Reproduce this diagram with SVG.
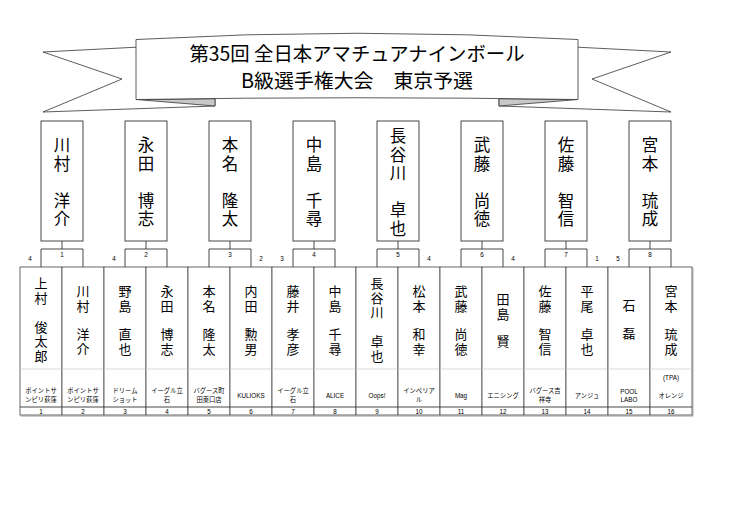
<svg xmlns="http://www.w3.org/2000/svg" width="740" height="523" viewBox="0 0 740 523">
<style>
  .jp { font-family: "Noto Sans CJK JP", "Liberation Sans", sans-serif; fill: #000; }
  .ttl { font-size: 19.5px; text-anchor: middle; dominant-baseline: central; }
  .wn { font-size: 16.5px; text-anchor: middle; dominant-baseline: central; }
  .pn { font-size: 13px; text-anchor: middle; dominant-baseline: central; }
  .sm { font-family: "Liberation Sans", "Noto Sans CJK JP", sans-serif; font-size: 6.3px; text-anchor: middle; dominant-baseline: central; fill: #000; }
  .box { fill: #fff; stroke: #333; stroke-width: 0.9; }
  .ln { fill: none; stroke: #333; stroke-width: 0.9; }
  .col { fill: #fff; stroke: #444; stroke-width: 0.8; }
  .sep { stroke: #cfcfcf; stroke-width: 0.8; }
  .ban { fill: #fff; stroke: #333; stroke-width: 0.8; stroke-linejoin: miter; }
  .fold { fill: #c8c8c8; stroke: #333; stroke-width: 0.8; }
</style>

<g id="title">
  <polygon class="ban" points="140,47 43,52 122,79 43,112 215,106 215,99"/>
  <polygon class="ban" points="574,47 671,52 592,79 671,112 499,106 499,99"/>
  <polygon class="fold" points="136,99.5 215,98.7 215,106"/>
  <polygon class="fold" points="578,99.5 499,98.7 499,106"/>
  <path class="ban" d="M136,39.5 Q357,27 578,39.5 L578,99.5 Q357,96 136,99.5 Z"/>
  <text class="jp ttl" x="357" y="52" textLength="335" lengthAdjust="spacingAndGlyphs">第35回 全日本アマチュアナインボール</text>
  <text class="jp ttl" x="357" y="79" textLength="232" lengthAdjust="spacingAndGlyphs">B級選手権大会　東京予選</text>
</g>

<!-- winners -->
<g id="w1"><rect class="box" x="41" y="121" width="42" height="120"/>
  <text class="jp wn"><tspan x="62" y="144">川</tspan><tspan x="62" y="162.5">村</tspan><tspan x="62" y="199.5">洋</tspan><tspan x="62" y="218">介</tspan></text></g>
<g id="w2"><rect class="box" x="125" y="121" width="42" height="120"/>
  <text class="jp wn"><tspan x="146" y="144">永</tspan><tspan x="146" y="162.5">田</tspan><tspan x="146" y="199.5">博</tspan><tspan x="146" y="218">志</tspan></text></g>
<g id="w3"><rect class="box" x="209" y="121" width="42" height="120"/>
  <text class="jp wn"><tspan x="230" y="144">本</tspan><tspan x="230" y="162.5">名</tspan><tspan x="230" y="199.5">隆</tspan><tspan x="230" y="218">太</tspan></text></g>
<g id="w4"><rect class="box" x="293" y="121" width="42" height="120"/>
  <text class="jp wn"><tspan x="314" y="144">中</tspan><tspan x="314" y="162.5">島</tspan><tspan x="314" y="199.5">千</tspan><tspan x="314" y="218">尋</tspan></text></g>
<g id="w5"><rect class="box" x="377" y="121" width="42" height="120"/>
  <text class="jp wn"><tspan x="398" y="135">長</tspan><tspan x="398" y="153.5">谷</tspan><tspan x="398" y="172">川</tspan><tspan x="398" y="209">卓</tspan><tspan x="398" y="227.5">也</tspan></text></g>
<g id="w6"><rect class="box" x="461" y="121" width="42" height="120"/>
  <text class="jp wn"><tspan x="482" y="144">武</tspan><tspan x="482" y="162.5">藤</tspan><tspan x="482" y="199.5">尚</tspan><tspan x="482" y="218">徳</tspan></text></g>
<g id="w7"><rect class="box" x="545" y="121" width="42" height="120"/>
  <text class="jp wn"><tspan x="566" y="144">佐</tspan><tspan x="566" y="162.5">藤</tspan><tspan x="566" y="199.5">智</tspan><tspan x="566" y="218">信</tspan></text></g>
<g id="w8"><rect class="box" x="629" y="121" width="42" height="120"/>
  <text class="jp wn"><tspan x="650" y="144">宮</tspan><tspan x="650" y="162.5">本</tspan><tspan x="650" y="199.5">琉</tspan><tspan x="650" y="218">成</tspan></text></g>

<!-- players -->
<g id="p1"><rect class="col" x="20" y="267" width="42" height="148"/><line class="sep" x1="20" y1="369" x2="62" y2="369"/><line class="ln" x1="20" y1="407" x2="62" y2="407"/>
  <text class="jp pn"><tspan x="41" y="282.25">上</tspan><tspan x="41" y="296.75">村</tspan><tspan x="41" y="325.75">俊</tspan><tspan x="41" y="340.25">太</tspan><tspan x="41" y="354.75">郎</tspan></text>
  <text class="sm"><tspan x="41" y="390">ポイントサ</tspan><tspan x="41" y="399">ンピリ荻窪</tspan></text><text class="sm" x="41" y="411.3">1</text></g>
<g id="p2"><rect class="col" x="62" y="267" width="42" height="148"/><line class="sep" x1="62" y1="369" x2="104" y2="369"/><line class="ln" x1="62" y1="407" x2="104" y2="407"/>
  <text class="jp pn"><tspan x="83" y="290">川</tspan><tspan x="83" y="304.5">村</tspan><tspan x="83" y="333">洋</tspan><tspan x="83" y="347.5">介</tspan></text>
  <text class="sm"><tspan x="83" y="390">ポイントサ</tspan><tspan x="83" y="399">ンピリ荻窪</tspan></text><text class="sm" x="83" y="411.3">2</text></g>
<g id="p3"><rect class="col" x="104" y="267" width="42" height="148"/><line class="sep" x1="104" y1="369" x2="146" y2="369"/><line class="ln" x1="104" y1="407" x2="146" y2="407"/>
  <text class="jp pn"><tspan x="125" y="290">野</tspan><tspan x="125" y="304.5">島</tspan><tspan x="125" y="333">直</tspan><tspan x="125" y="347.5">也</tspan></text>
  <text class="sm"><tspan x="125" y="390">ドリーム</tspan><tspan x="125" y="399">ショット</tspan></text><text class="sm" x="125" y="411.3">3</text></g>
<g id="p4"><rect class="col" x="146" y="267" width="42" height="148"/><line class="sep" x1="146" y1="369" x2="188" y2="369"/><line class="ln" x1="146" y1="407" x2="188" y2="407"/>
  <text class="jp pn"><tspan x="167" y="290">永</tspan><tspan x="167" y="304.5">田</tspan><tspan x="167" y="333">博</tspan><tspan x="167" y="347.5">志</tspan></text>
  <text class="sm"><tspan x="167" y="390">イーグル立</tspan><tspan x="167" y="399">石</tspan></text><text class="sm" x="167" y="411.3">4</text></g>
<g id="p5"><rect class="col" x="188" y="267" width="42" height="148"/><line class="sep" x1="188" y1="369" x2="230" y2="369"/><line class="ln" x1="188" y1="407" x2="230" y2="407"/>
  <text class="jp pn"><tspan x="209" y="290">本</tspan><tspan x="209" y="304.5">名</tspan><tspan x="209" y="333">隆</tspan><tspan x="209" y="347.5">太</tspan></text>
  <text class="sm"><tspan x="209" y="390">バグース町</tspan><tspan x="209" y="399">田東口店</tspan></text><text class="sm" x="209" y="411.3">5</text></g>
<g id="p6"><rect class="col" x="230" y="267" width="42" height="148"/><line class="sep" x1="230" y1="369" x2="272" y2="369"/><line class="ln" x1="230" y1="407" x2="272" y2="407"/>
  <text class="jp pn"><tspan x="251" y="290">内</tspan><tspan x="251" y="304.5">田</tspan><tspan x="251" y="333">勲</tspan><tspan x="251" y="347.5">男</tspan></text>
  <text class="sm" x="251" y="395">KULIOKS</text><text class="sm" x="251" y="411.3">6</text></g>
<g id="p7"><rect class="col" x="272" y="267" width="42" height="148"/><line class="sep" x1="272" y1="369" x2="314" y2="369"/><line class="ln" x1="272" y1="407" x2="314" y2="407"/>
  <text class="jp pn"><tspan x="293" y="290">藤</tspan><tspan x="293" y="304.5">井</tspan><tspan x="293" y="333">孝</tspan><tspan x="293" y="347.5">彦</tspan></text>
  <text class="sm"><tspan x="293" y="390">イーグル立</tspan><tspan x="293" y="399">石</tspan></text><text class="sm" x="293" y="411.3">7</text></g>
<g id="p8"><rect class="col" x="314" y="267" width="42" height="148"/><line class="sep" x1="314" y1="369" x2="356" y2="369"/><line class="ln" x1="314" y1="407" x2="356" y2="407"/>
  <text class="jp pn"><tspan x="335" y="290">中</tspan><tspan x="335" y="304.5">島</tspan><tspan x="335" y="333">千</tspan><tspan x="335" y="347.5">尋</tspan></text>
  <text class="sm" x="335" y="395">ALICE</text><text class="sm" x="335" y="411.3">8</text></g>
<g id="p9"><rect class="col" x="356" y="267" width="42" height="148"/><line class="sep" x1="356" y1="369" x2="398" y2="369"/><line class="ln" x1="356" y1="407" x2="398" y2="407"/>
  <text class="jp pn"><tspan x="377" y="282.25">長</tspan><tspan x="377" y="296.75">谷</tspan><tspan x="377" y="311.25">川</tspan><tspan x="377" y="340.25">卓</tspan><tspan x="377" y="354.75">也</tspan></text>
  <text class="sm" x="377" y="395">Oops!</text><text class="sm" x="377" y="411.3">9</text></g>
<g id="p10"><rect class="col" x="398" y="267" width="42" height="148"/><line class="sep" x1="398" y1="369" x2="440" y2="369"/><line class="ln" x1="398" y1="407" x2="440" y2="407"/>
  <text class="jp pn"><tspan x="419" y="290">松</tspan><tspan x="419" y="304.5">本</tspan><tspan x="419" y="333">和</tspan><tspan x="419" y="347.5">幸</tspan></text>
  <text class="sm"><tspan x="419" y="390">インペリア</tspan><tspan x="419" y="399">ル</tspan></text><text class="sm" x="419" y="411.3">10</text></g>
<g id="p11"><rect class="col" x="440" y="267" width="42" height="148"/><line class="sep" x1="440" y1="369" x2="482" y2="369"/><line class="ln" x1="440" y1="407" x2="482" y2="407"/>
  <text class="jp pn"><tspan x="461" y="290">武</tspan><tspan x="461" y="304.5">藤</tspan><tspan x="461" y="333">尚</tspan><tspan x="461" y="347.5">徳</tspan></text>
  <text class="sm" x="461" y="395">Mag</text><text class="sm" x="461" y="411.3">11</text></g>
<g id="p12"><rect class="col" x="482" y="267" width="42" height="148"/><line class="sep" x1="482" y1="369" x2="524" y2="369"/><line class="ln" x1="482" y1="407" x2="524" y2="407"/>
  <text class="jp pn"><tspan x="503" y="298">田</tspan><tspan x="503" y="312.5">島</tspan><tspan x="503" y="340">賢</tspan></text>
  <text class="sm" x="503" y="395">エニシング</text><text class="sm" x="503" y="411.3">12</text></g>
<g id="p13"><rect class="col" x="524" y="267" width="42" height="148"/><line class="sep" x1="524" y1="369" x2="566" y2="369"/><line class="ln" x1="524" y1="407" x2="566" y2="407"/>
  <text class="jp pn"><tspan x="545" y="290">佐</tspan><tspan x="545" y="304.5">藤</tspan><tspan x="545" y="333">智</tspan><tspan x="545" y="347.5">信</tspan></text>
  <text class="sm"><tspan x="545" y="390">バグース吉</tspan><tspan x="545" y="399">祥寺</tspan></text><text class="sm" x="545" y="411.3">13</text></g>
<g id="p14"><rect class="col" x="566" y="267" width="42" height="148"/><line class="sep" x1="566" y1="369" x2="608" y2="369"/><line class="ln" x1="566" y1="407" x2="608" y2="407"/>
  <text class="jp pn"><tspan x="587" y="290">平</tspan><tspan x="587" y="304.5">尾</tspan><tspan x="587" y="333">卓</tspan><tspan x="587" y="347.5">也</tspan></text>
  <text class="sm" x="587" y="395">アンジュ</text><text class="sm" x="587" y="411.3">14</text></g>
<g id="p15"><rect class="col" x="608" y="267" width="42" height="148"/><line class="sep" x1="608" y1="369" x2="650" y2="369"/><line class="ln" x1="608" y1="407" x2="650" y2="407"/>
  <text class="jp pn"><tspan x="629" y="303.5">石</tspan><tspan x="629" y="332">磊</tspan></text>
  <text class="sm"><tspan x="629" y="391">POOL</tspan><tspan x="629" y="399">LABO</tspan></text><text class="sm" x="629" y="411.3">15</text></g>
<g id="p16"><rect class="col" x="650" y="267" width="42" height="148"/><line class="sep" x1="650" y1="369" x2="692" y2="369"/><line class="ln" x1="650" y1="407" x2="692" y2="407"/>
  <text class="jp pn"><tspan x="671" y="290">宮</tspan><tspan x="671" y="304.5">本</tspan><tspan x="671" y="333">琉</tspan><tspan x="671" y="347.5">成</tspan></text>
  <text class="sm" x="671" y="377">(TPA)</text><text class="sm" x="671" y="395">オレンジ</text><text class="sm" x="671" y="411.3">16</text></g>
<g id="table-shadow"><path d="M20.5,415.8 L692.8,415.8 L692.8,267.5" fill="none" stroke="#999" stroke-width="1.2"/></g>

<!-- matches -->
<g id="m1"><path class="ln" d="M41,267 V249 H83 V267"/><text class="sm" x="62" y="254">1</text><text class="sm" x="30" y="258">4</text></g>
<g id="m2"><path class="ln" d="M125,267 V249 H167 V267"/><text class="sm" x="146" y="254">2</text><text class="sm" x="114" y="258">4</text></g>
<g id="m3"><path class="ln" d="M209,267 V249 H251 V267"/><text class="sm" x="230" y="254">3</text><text class="sm" x="261" y="258">2</text></g>
<g id="m4"><path class="ln" d="M293,267 V249 H335 V267"/><text class="sm" x="314" y="254">4</text><text class="sm" x="282" y="258">3</text></g>
<g id="m5"><path class="ln" d="M377,267 V249 H419 V267"/><text class="sm" x="398" y="254">5</text><text class="sm" x="429" y="258">4</text></g>
<g id="m6"><path class="ln" d="M461,267 V249 H503 V267"/><text class="sm" x="482" y="254">6</text><text class="sm" x="513" y="258">4</text></g>
<g id="m7"><path class="ln" d="M545,267 V249 H587 V267"/><text class="sm" x="566" y="254">7</text><text class="sm" x="597" y="258">1</text></g>
<g id="m8"><path class="ln" d="M629,267 V249 H671 V267"/><text class="sm" x="650" y="254">8</text><text class="sm" x="618" y="258">5</text></g>

<g id="connectors">
  <path class="ln" d="M62,241 V249 M146,241 V249 M230,241 V249 M314,241 V249 M398,241 V249 M482,241 V249 M566,241 V249 M650,241 V249"/>
</g>
</svg>
